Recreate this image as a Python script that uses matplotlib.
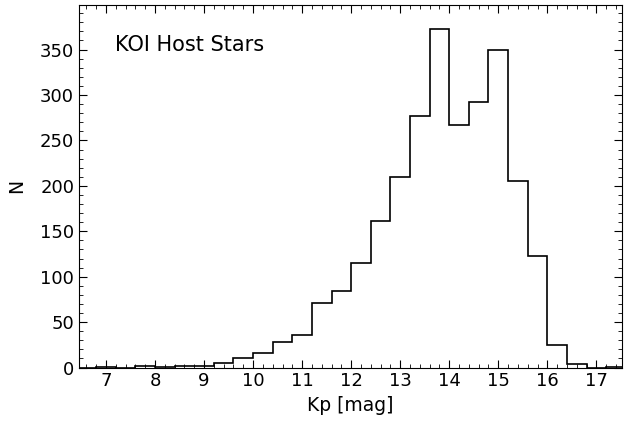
import numpy as np
import matplotlib
matplotlib.use("Agg")
import matplotlib.pyplot as plt
from matplotlib.ticker import MultipleLocator

# bin edges (Kp magnitude) and counts per bin
bin_edges = np.arange(6.4, 17.61, 0.4)
counts = [0, 1, 0, 2, 1, 2, 2, 5, 11, 16, 28, 36, 71, 84, 115, 161,
          210, 277, 373, 267, 292, 350, 205, 123, 25, 4, 0, 1]

centers = 0.5 * (bin_edges[:-1] + bin_edges[1:])

fig = plt.figure(figsize=(6.24, 4.22), dpi=100)
ax = fig.add_axes([0.1266, 0.129, 0.870, 0.859])

ax.hist(centers, bins=bin_edges, weights=counts, histtype="step",
        color="black", linewidth=1.2)

ax.set_xlim(6.45, 17.52)
ax.set_ylim(0, 399)
ax.xaxis.set_major_locator(MultipleLocator(1))
ax.xaxis.set_minor_locator(MultipleLocator(0.2))
ax.yaxis.set_major_locator(MultipleLocator(50))
ax.yaxis.set_minor_locator(MultipleLocator(10))
ax.tick_params(which="both", direction="in", top=True, right=True,
               labelsize=13)
ax.tick_params(which="major", length=6)
ax.tick_params(which="minor", length=3)

ax.set_xlabel("Kp [mag]", fontsize=13.5)
ax.set_ylabel("N", fontsize=13.5, labelpad=10)
ax.text(0.066, 0.89, "KOI Host Stars", transform=ax.transAxes,
        fontsize=15, va="center", ha="left")

fig.savefig("out.png", dpi=100)
